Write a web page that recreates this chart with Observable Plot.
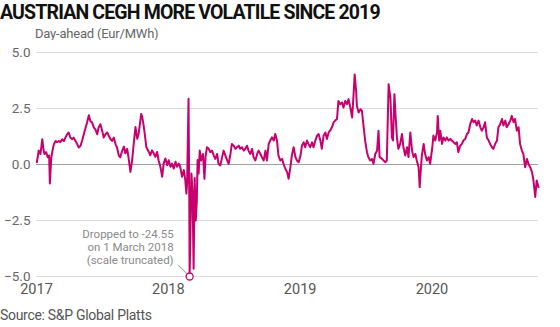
<!DOCTYPE html>
<html>
<head>
<meta charset="utf-8">
<script src="https://cdn.jsdelivr.net/npm/d3@7"></script>
<script src="https://cdn.jsdelivr.net/npm/@observablehq/plot@0.6"></script>
<style>
  html, body { margin: 0; padding: 0; background: #fff; }
  body { width: 560px; height: 327px; position: relative; overflow: hidden; font-family: Roboto, "Noto Sans", sans-serif; }
  #title { position: absolute; left: 0; top: 1px; font-family: Roboto, sans-serif; font-weight: 700; font-size: 19.5px; color: #111; white-space: nowrap; letter-spacing: -0.85px; }
  #subtitle { position: absolute; left: 35px; top: 26px; font-size: 13px; color: #666; white-space: nowrap; letter-spacing: -0.2px; }
  #chart { position: absolute; left: 0; top: 40px; }
  #source { position: absolute; left: 0; top: 307px; font-size: 14px; color: #555; white-space: nowrap; letter-spacing: -0.3px; }
</style>
</head>
<body>
<div id="title">AUSTRIAN CEGH MORE VOLATILE SINCE 2019</div>
<div id="subtitle">Day-ahead (Eur/MWh)</div>
<div id="chart"></div>
<div id="source">Source: S&amp;P Global Platts</div>
<script>
const dates2017 = ["2017-01-02","2017-01-05","2017-01-07","2017-01-12","2017-01-17","2017-01-20","2017-01-23","2017-01-28","2017-02-01","2017-02-05","2017-02-07","2017-02-11","2017-02-14","2017-02-18","2017-02-23","2017-02-27","2017-03-04","2017-03-08","2017-03-13","2017-03-18","2017-03-22","2017-03-27","2017-03-31","2017-04-05","2017-04-10","2017-04-14","2017-04-19","2017-04-24","2017-04-28","2017-05-03","2017-05-07","2017-05-12","2017-05-17","2017-05-21","2017-05-26","2017-05-30","2017-06-04","2017-06-09","2017-06-13","2017-06-18","2017-06-22","2017-06-27","2017-07-02","2017-07-06","2017-07-11","2017-07-16","2017-07-20","2017-07-25","2017-07-29","2017-08-03","2017-08-08","2017-08-12","2017-08-17","2017-08-21","2017-08-26","2017-08-31","2017-09-04","2017-09-09","2017-09-13","2017-09-18","2017-09-23","2017-09-27","2017-10-02","2017-10-07","2017-10-11","2017-10-18","2017-10-21","2017-10-25","2017-10-29","2017-11-01","2017-11-08","2017-11-12","2017-11-17","2017-11-22","2017-11-26","2017-12-01","2017-12-05","2017-12-10","2017-12-15","2017-12-19","2017-12-24","2017-12-29"];
const values2017 = [0.10,0.40,0.62,0.47,1.13,0.70,0.47,0.55,0.32,0.40,-0.85,0.30,0.60,0.90,1.05,1.00,1.05,1.00,1.13,1.05,1.20,1.35,1.43,1.20,1.13,1.20,1.05,0.90,0.76,0.84,1.05,1.35,1.65,1.87,2.20,1.94,1.87,1.65,1.57,1.35,1.65,1.80,1.50,1.20,1.35,1.43,1.28,1.13,1.05,1.20,0.90,0.76,0.40,0.32,0.60,0.80,0.50,0.70,0.30,-0.33,0.20,0.90,1.67,1.15,1.40,2.26,2.10,1.70,1.20,0.78,0.56,0.41,0.63,0.49,0.34,0.56,0.19,-0.10,-0.55,0.04,0.27,-0.03];

const dates2018 = ["2018-01-02","2018-01-07","2018-01-11","2018-01-16","2018-01-21","2018-01-25","2018-01-30","2018-02-03","2018-02-08","2018-02-13","2018-02-17","2018-02-20","2018-02-22","2018-02-26","2018-02-28","2018-03-01","2018-03-06","2018-03-09","2018-03-12","2018-03-15","2018-03-18","2018-03-21","2018-03-23","2018-03-26","2018-03-29","2018-04-02","2018-04-07","2018-04-11","2018-04-14","2018-04-18","2018-04-23","2018-04-27","2018-05-02","2018-05-07","2018-05-11","2018-05-16","2018-05-20","2018-05-25","2018-05-30","2018-06-03","2018-06-08","2018-06-13","2018-06-17","2018-06-22","2018-06-26","2018-07-01","2018-07-06","2018-07-10","2018-07-15","2018-07-19","2018-07-24","2018-07-29","2018-08-02","2018-08-07","2018-08-11","2018-08-16","2018-08-21","2018-08-25","2018-08-30","2018-09-04","2018-09-08","2018-09-13","2018-09-17","2018-09-22","2018-09-27","2018-10-01","2018-10-06","2018-10-10","2018-10-15","2018-10-20","2018-10-24","2018-10-29","2018-11-02","2018-11-07","2018-11-12","2018-11-16","2018-11-21","2018-11-26","2018-11-30","2018-12-05","2018-12-09","2018-12-14","2018-12-19","2018-12-23","2018-12-28"];
const values2018 = [0.19,-0.10,0.04,-0.18,0.12,-0.10,0.04,-0.10,-0.55,-0.25,-0.70,-1.30,-0.85,2.93,-1.50,-24.55,-0.40,-1.20,-4.65,-0.60,-2.50,-1.60,0.20,-0.40,0.62,0.18,0.47,-0.64,0.33,0.77,0.70,0.55,0.62,0.40,0.25,0.47,0.03,-0.04,0.33,0.62,0.40,0.18,0.03,0.47,0.92,0.84,0.70,0.77,0.84,0.70,0.77,0.62,0.70,0.84,0.62,0.47,0.70,0.33,0.18,0.47,0.62,0.47,0.33,0.18,0.62,0.18,0.92,1.07,1.21,1.07,1.36,1.07,0.40,0.18,0.25,0.03,-0.19,-0.34,-0.64,-0.12,0.40,0.77,0.33,0.18,0.10];

const dates2019 = ["2019-01-02","2019-01-06","2019-01-11","2019-01-15","2019-01-20","2019-01-24","2019-01-29","2019-02-03","2019-02-07","2019-02-12","2019-02-17","2019-02-21","2019-02-26","2019-03-02","2019-03-07","2019-03-12","2019-03-16","2019-03-21","2019-03-25","2019-03-30","2019-04-04","2019-04-08","2019-04-13","2019-04-17","2019-04-22","2019-04-27","2019-05-01","2019-05-06","2019-05-11","2019-05-15","2019-05-20","2019-05-25","2019-05-29","2019-06-01","2019-06-05","2019-06-07","2019-06-12","2019-06-17","2019-06-21","2019-06-26","2019-06-30","2019-07-05","2019-07-09","2019-07-14","2019-07-19","2019-07-23","2019-07-28","2019-08-02","2019-08-06","2019-08-09","2019-08-16","2019-08-20","2019-08-25","2019-08-29","2019-09-03","2019-09-08","2019-09-12","2019-09-15","2019-09-19","2019-09-22","2019-09-26","2019-09-30","2019-10-05","2019-10-10","2019-10-14","2019-10-19","2019-10-24","2019-10-28","2019-11-02","2019-11-07","2019-11-11","2019-11-16","2019-11-20","2019-11-25","2019-11-28","2019-12-01","2019-12-04","2019-12-09","2019-12-13","2019-12-18","2019-12-23","2019-12-27"];
const values2019 = [0.40,0.84,0.99,0.77,1.07,0.92,0.77,0.99,0.77,1.07,1.29,1.36,1.07,0.70,1.29,1.43,1.14,1.43,1.51,1.66,1.89,1.96,2.03,2.84,2.69,2.77,2.54,2.84,2.69,2.92,2.54,2.10,3.14,4.02,3.28,2.62,2.32,2.47,2.40,1.66,1.07,0.55,0.33,0.18,0.25,0.03,0.47,0.62,1.51,0.33,0.25,0.18,0.10,0.18,3.58,2.98,1.21,1.07,3.14,2.25,1.21,0.70,0.92,1.36,0.77,0.40,0.77,0.33,1.43,0.62,0.33,0.47,0.18,-0.12,-1.01,-0.27,0.40,0.92,0.47,0.18,0.33,0.03];

const dates2020 = ["2020-01-02","2020-01-05","2020-01-10","2020-01-15","2020-01-17","2020-01-21","2020-01-24","2020-01-29","2020-02-02","2020-02-07","2020-02-11","2020-02-16","2020-02-21","2020-02-25","2020-03-01","2020-03-05","2020-03-10","2020-03-14","2020-03-19","2020-03-24","2020-03-28","2020-04-02","2020-04-07","2020-04-11","2020-04-16","2020-04-21","2020-04-25","2020-04-30","2020-05-04","2020-05-09","2020-05-14","2020-05-18","2020-05-23","2020-05-27","2020-06-01","2020-06-06","2020-06-10","2020-06-15","2020-06-19","2020-06-24","2020-06-29","2020-07-03","2020-07-08","2020-07-13","2020-07-17","2020-07-22","2020-07-26","2020-07-31","2020-08-05","2020-08-09","2020-08-14","2020-08-18","2020-08-23","2020-08-28","2020-09-01","2020-09-06","2020-09-10","2020-09-15","2020-09-20","2020-09-24","2020-09-29","2020-10-04","2020-10-08","2020-10-13","2020-10-17","2020-10-22"];
const values2020 = [0.77,1.29,1.07,1.43,2.17,1.07,1.51,0.92,1.21,1.07,1.21,1.07,1.14,1.07,0.99,0.92,0.99,0.55,0.84,0.92,1.07,1.14,1.36,1.43,1.80,2.03,1.89,1.96,1.74,1.96,1.66,1.51,1.66,1.89,1.21,1.07,0.92,0.77,0.70,0.92,1.07,1.66,1.80,2.03,1.74,1.96,1.66,1.80,1.96,2.17,1.89,2.03,1.51,1.66,0.92,0.62,0.47,-0.12,0.25,0.03,-0.12,-0.34,-0.71,-1.45,-0.71,-1.01];

const yTicks = [-5, -2.5, 0, 2.5, 5];
const xTickYears = ["2017-01-01", "2018-01-01", "2019-01-01", "2020-01-01"];
const xDomain = ["2017-01-01", "2020-10-22"];

const allDates = [...dates2017, ...dates2018, ...dates2019, ...dates2020];
const allValues = [...values2017, ...values2018, ...values2019, ...values2020];
const data = allDates.map((d, i) => ({date: new Date(d), value: allValues[i]}));
const minPoint = data.reduce((a, b) => (b.value < a.value ? b : a));
const noteText = `Dropped to ${minPoint.value}\non ${d3.utcFormat("%-d %B %Y")(minPoint.date)}\n(scale truncated)`;

const magenta = "#c8006e";

const leader = {
  draw(context, l) {
    context.moveTo(0, 0);
    context.lineTo(0, -l);
  }
};

const chart = Plot.plot({
  width: 560,
  height: 262,
  marginLeft: 36,
  marginRight: 22,
  marginTop: 12,
  marginBottom: 26,
  style: {fontFamily: "Roboto, 'Noto Sans', sans-serif", background: "#fff", color: "#666"},
  x: {type: "utc", domain: xDomain.map(d => new Date(d)), label: null},
  y: {domain: [-5, 5], clamp: true, label: null},
  marks: [
    Plot.ruleY(yTicks.filter(t => t !== 0), {stroke: "#dcdcdc", strokeWidth: 1}),
    Plot.ruleY([0], {stroke: "#a0a0a0", strokeWidth: 1}),
    Plot.axisY({ticks: yTicks, tickSize: 0, tickPadding: 6, tickFormat: d3.format(".1f"), fontSize: 13.5, fill: "#666", label: null}),
    Plot.axisX({ticks: xTickYears.map(d => new Date(d)), tickSize: 0, tickPadding: 7, tickFormat: d3.utcFormat("%Y"), fontSize: 14.5, fill: "#555", label: null}),
    Plot.line(data, {x: "date", y: "value", stroke: magenta, strokeWidth: 2, strokeLinejoin: "round"}),
    Plot.vector([minPoint], {x: "date", y: "value", rotate: -45, length: 12, anchor: "start", dx: -3, dy: -3, shape: leader, stroke: "#999", strokeWidth: 1}),
    Plot.dot([minPoint], {x: "date", y: "value", r: 3.5, stroke: magenta, fill: "#fff", strokeWidth: 1.3}),
    Plot.text([minPoint], {x: "date", y: "value", text: () => noteText, textAnchor: "end", lineAnchor: "bottom", lineHeight: 1.12, dx: -16, dy: -13, fontSize: 11.5, fill: "#8a8a8a"})
  ]
});
document.getElementById("chart").appendChild(chart);
</script>
</body>
</html>
